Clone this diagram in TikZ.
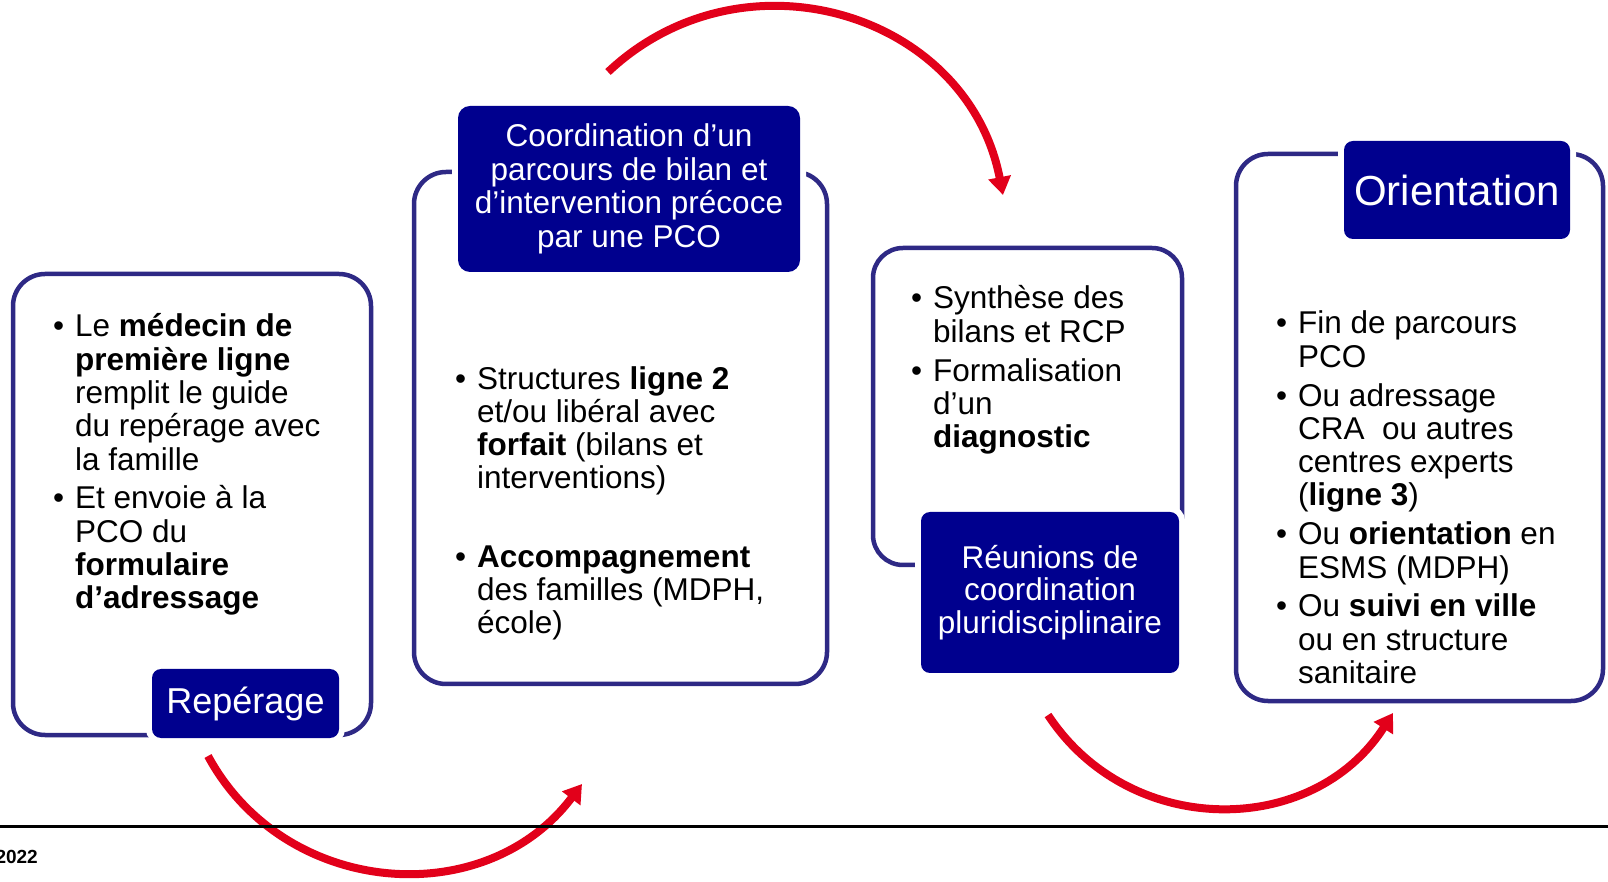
\documentclass[tikz,border=0pt]{standalone}
\usepackage{fontspec}
\setmainfont{Liberation Sans}
\usetikzlibrary{arrows.meta}

\definecolor{pcoframe}{RGB}{46,41,133}
\definecolor{pconavy}{RGB}{0,0,142}
\definecolor{pcored}{RGB}{226,0,26}

\newcommand{\bul}{\llap{\textbullet\hspace{11pt}}}

\begin{document}
\begin{tikzpicture}[x=1pt,y=1pt]
\tikzset{
  stageframe/.style={draw=pcoframe,line width=4.5pt,rounded corners=32pt,inner sep=0pt},
  stagelabel/.style={fill=pconavy,rounded corners=9pt,text=white,align=center,inner sep=0pt,
    font=\fontsize{31.5}{33.3}\selectfont,preaction={draw=white,line width=12pt}},
  stagetext/.style={align=left,inner sep=0pt,anchor=base west,font=\fontsize{31.5}{33.3}\selectfont},
  cyclearrow/.style={draw=pcored,line width=8pt,-{Triangle[length=18pt,width=22pt]}}
}
\useasboundingbox (0,0) rectangle (1608,881);
% frames
\node[stageframe,minimum width=358pt,minimum height=461pt] (frame1) at (192,376.5) {};
\node[stageframe,minimum width=413pt,minimum height=512pt] (frame2) at (620.5,453) {};
\node[stageframe,minimum width=309pt,minimum height=317pt,rounded corners=30pt] (frame3) at (1027.5,474.5) {};
\node[stageframe,minimum width=367pt,minimum height=547pt] (frame4) at (1419.5,453.5) {};
% titles
\node[stagelabel,minimum width=187pt,minimum height=69pt,font=\fontsize{36}{40}\selectfont] (lab1) at (245.5,177.5) {Repérage};
\node[stagelabel,minimum width=342pt,minimum height=166pt,font=\fontsize{31.5}{33.6}\selectfont,rounded corners=12pt] (lab2) at (629,692)
  {Coordination d’un\\parcours de bilan et\\d’intervention précoce\\par une PCO};
\node[stagelabel,minimum width=258pt,minimum height=161pt,font=\fontsize{31.5}{32.7}\selectfont] (lab3) at (1050,288.5)
  {Réunions de\\coordination\\pluridisciplinaire};
\node[stagelabel,minimum width=226pt,minimum height=98pt,font=\fontsize{42}{46}\selectfont] (lab4) at (1457,691) {Orientation};
% bullet texts (placed by the baseline of their last line)
\node[stagetext] (txt1) at (75,272.1) {\bul Le \textbf{médecin de}\\
  \textbf{première ligne}\\
  remplit le guide\\
  du repérage avec\\
  la famille\\[5.5pt]
  \bul Et envoie à la\\
  PCO du\\
  \textbf{formulaire}\\
  \textbf{d’adressage}};
\node[stagetext] (txt2) at (477,247.1) {\bul Structures \textbf{ligne 2}\\
  et/ou libéral avec\\
  \textbf{forfait} (bilans et\\
  interventions)\\[45pt]
  \bul \textbf{Accompagnement}\\
  des familles (MDPH,\\
  école)};
\node[stagetext] (txt3) at (933,433.3) {\bul Synthèse des\\
  bilans et RCP\\[5.5pt]
  \bul Formalisation\\
  d’un\\
  \textbf{diagnostic}};
\node[stagetext] (txt4) at (1298,197.5) {\bul Fin de parcours\\
  PCO\\[5.5pt]
  \bul Ou adressage\\
  CRA\ \ ou autres\\
  centres experts\\
  (\textbf{ligne 3})\\[5.5pt]
  \bul Ou \textbf{orientation} en\\
  ESMS (MDPH)\\[5.5pt]
  \bul Ou \textbf{suivi en ville}\\
  ou en structure\\
  sanitaire};
% cycle arrows
\coordinate (a1s) at (208,125);
\coordinate (a1e) at (582,97);
\coordinate (a2s) at (608,809);
\coordinate (a2e) at (1003,686);
\coordinate (a3s) at (1048,166);
\coordinate (a3e) at (1393,168);
\draw[cyclearrow] (a1s) to[out=-61.6,in=233,looseness=1.1] (a1e);
\draw[cyclearrow] (a2s) to[out=43.3,in=101,looseness=1.15] (a2e);
\draw[cyclearrow] (a3s) to[out=-56.7,in=237.4,looseness=1.1] (a3e);
% footer
\coordinate (rulel) at (0,54.5);
\coordinate (ruler) at (1608,54.5);
\draw[line width=3pt] (rulel) -- (ruler);
\node[anchor=base east,inner sep=0pt,font=\fontsize{19}{22}\selectfont\bfseries] (datefoot) at (38,18) {2022};
\end{tikzpicture}
\end{document}
